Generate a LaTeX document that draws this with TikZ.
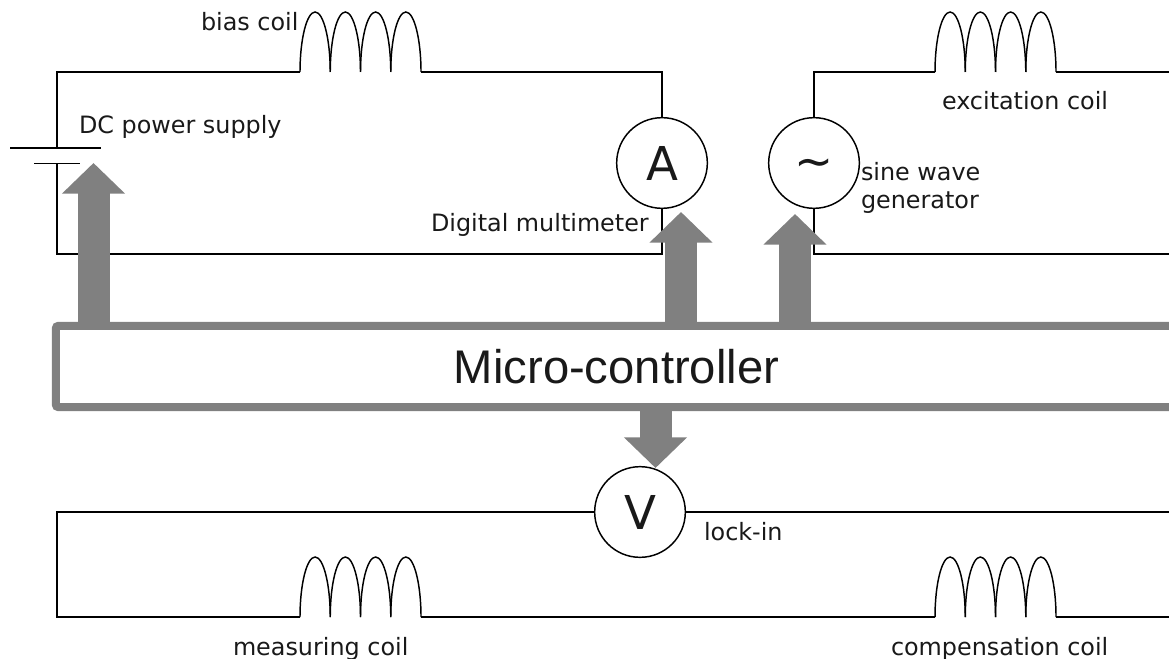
\documentclass[tikz,border=0pt]{standalone}
\usepackage{fontspec}
\setmainfont{DejaVu Sans}
\newfontfamily\ctrlfont{Liberation Sans}
\usetikzlibrary{arrows.meta}
\definecolor{ctrlgray}{gray}{0.5}
\definecolor{inkgray}{gray}{0.1}

\begin{document}
\begin{tikzpicture}[x=0.75pt,y=-0.75pt]
	% Define styles
	\tikzset{
		wire/.style={draw=black, line width=1.1pt},
		meter/.style={circle, draw=black, line width=1.1pt, fill=white, minimum size=68pt, inner sep=0pt, outer sep=0pt, text=inkgray, font=\fontsize{35}{35}\selectfont},
		caption/.style={inner sep=0pt, outer sep=0pt, text=inkgray, font=\fontsize{17.9}{24}\selectfont},
		ctrlbox/.style={draw=ctrlgray, line width=6pt, fill=white, rounded corners=2pt, minimum width=841pt, minimum height=61pt, inner sep=0pt, outer sep=0pt, text=inkgray, font=\ctrlfont\fontsize{35.4}{35}\selectfont},
		busarrow/.style={draw=ctrlgray, line width=24pt, -{Triangle[width=46pt,length=23pt]}}
	}
	\useasboundingbox (0,0) rectangle (1169,659);
	
	% Macro to draw coil
	\def\drawcoil#1#2#3{
		\coordinate (#1-l) at (#2, #3);
		\coordinate (#1-r) at (#2+121, #3);
		\foreach \k in {0,...,3}
		\draw[wire] (#2+30.25*\k, #3) .. controls (#2+30.25*\k, #3-33) and (#2+30.25*\k+6.8, #3-60) .. (#2+30.25*\k+15.1, #3-60)
			.. controls (#2+30.25*\k+23.4, #3-60) and (#2+30.25*\k+30.25, #3-33) .. (#2+30.25*\k+30.25, #3);
	}
	
	% Coils
	\drawcoil{bias}{300}{72}
	\drawcoil{exc}{935}{72}
	\drawcoil{meas}{300}{617}
	\drawcoil{comp}{935}{617}
	
	% Meters
	\node[meter] (amp) at (662, 163) {A};
	\node[meter] (gen) at (814, 163) {};
	\node[inner sep=0pt, text=inkgray, font=\fontsize{35}{35}\selectfont] (gen-sign) at (814, 168) {∼};
	\node[meter] (volt) at (640, 512) {V};
	
	% Corners of the wires
	\coordinate (tl) at (57, 72);
	\coordinate (tm) at (662, 72);
	\coordinate (bl) at (57, 254);
	\coordinate (bm) at (662, 254);
	\coordinate (exc-tl) at (814, 72);
	\coordinate (exc-tr) at (1169, 72);
	\coordinate (exc-bl) at (814, 254);
	\coordinate (exc-br) at (1169, 254);
	\coordinate (low-tl) at (57, 512);
	\coordinate (low-bl) at (57, 617);
	\coordinate (low-tr) at (1169, 512);
	\coordinate (low-br) at (1169, 617);
	
	% DC power supply
	\coordinate (cell-a) at (10, 148);
	\coordinate (cell-b) at (101, 148);
	\coordinate (cell-c) at (34, 163.5);
	\coordinate (cell-d) at (80, 163.5);
	\coordinate (cell-top) at (57, 148);
	\coordinate (cell-bot) at (57, 163.5);
	\draw[wire] (cell-a) -- (cell-b);
	\draw[wire] (cell-c) -- (cell-d);
	
	% Circuits
	\draw[wire] (cell-top) -- (tl) -- (bias-l);
	\draw[wire] (bias-r) -- (tm) -- (amp.north);
	\draw[wire] (amp.south) -- (bm) -- (bl) -- (cell-bot);
	\draw[wire] (exc-tr) -- (exc-r);
	\draw[wire] (exc-l) -- (exc-tl) -- (gen.north);
	\draw[wire] (gen.south) -- (exc-bl) -- (exc-br);
	\draw[wire] (volt.west) -- (low-tl) -- (low-bl) -- (meas-l);
	\draw[wire] (meas-r) -- (comp-l);
	\draw[wire] (comp-r) -- (low-br);
	\draw[wire] (volt.east) -- (low-tr);
	
	% Micro-controller and its arrows
	\node[ctrlbox] (ctrl) at (616.5, 366.5) {Micro-controller};
	\coordinate (tip-dc) at (93.5, 163);
	\coordinate (tip-amp) at (681, 212);
	\coordinate (tip-gen) at (795, 214);
	\coordinate (tip-volt) at (655.5, 468);
	\draw[busarrow] (ctrl.north -| tip-dc) -- (tip-dc);
	\draw[busarrow] (ctrl.north -| tip-amp) -- (tip-amp);
	\draw[busarrow] (ctrl.north -| tip-gen) -- (tip-gen);
	\draw[busarrow] (ctrl.south -| tip-volt) -- (tip-volt);
	
	% Labels
	\node[caption, anchor=base west] (l-bias) at (201, 31) {bias coil};
	\node[caption, anchor=base west] (l-dc) at (79, 134) {DC power supply};
	\node[caption, anchor=base west] (l-exc) at (942, 110) {excitation coil};
	\node[caption, anchor=base west] (l-dmm) at (431, 232) {Digital multimeter};
	\node[caption, anchor=base west] (l-sine) at (861, 181) {sine wave};
	\node[caption, anchor=base west] (l-gen) at (861, 209) {generator};
	\node[caption, anchor=base west] (l-lock) at (704, 540) {lock-in};
	\node[caption, anchor=base west] (l-meas) at (233, 655) {measuring coil};
	\node[caption, anchor=base west] (l-comp) at (891, 655) {compensation coil};
\end{tikzpicture}
\end{document}
